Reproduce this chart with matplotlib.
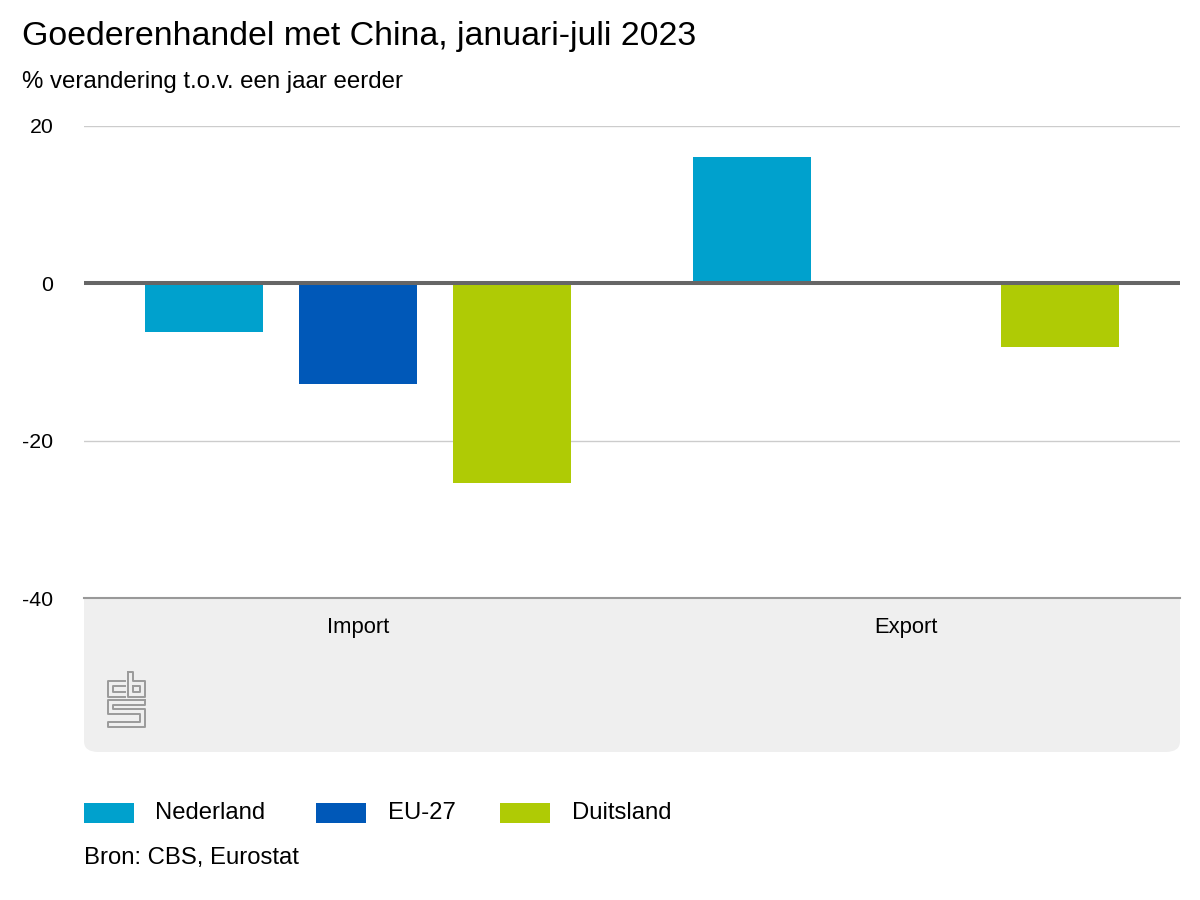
import matplotlib
matplotlib.use("Agg")
import matplotlib.pyplot as plt
import numpy as np
from matplotlib.patches import FancyBboxPatch
from matplotlib.lines import Line2D

plt.rcParams['font.family'] = ['Liberation Sans', 'DejaVu Sans']

categories = ["Import", "Export"]
series = ["Nederland", "EU-27", "Duitsland"]
nederland = [-6.2, 16.0]
eu27 = [-12.8, 0.0]
duitsland = [-25.4, -8.1]
colors = ["#00a1cd", "#0058b8", "#afcb05"]
yticks = [-40, -20, 0, 20]

W, H = 1200, 900
fig = plt.figure(figsize=(12, 9), dpi=100)

def fx(x):
    return x / W

def fy(y):
    return 1 - y / H

ax_left, ax_right, ax_top, ax_bot = 84, 1180, 126, 598
ax = fig.add_axes([fx(ax_left), fy(ax_bot), fx(ax_right - ax_left), (ax_bot - ax_top) / H])
ax.set_facecolor("white")

# grey panel below the plot
panel = FancyBboxPatch((fx(84), fy(752)), fx(1180 - 84), (752 - 560) / H,
                       boxstyle="round,pad=0,rounding_size=0.012",
                       transform=fig.transFigure, facecolor="#efefef",
                       edgecolor="none", zorder=-5)
fig.patches.append(panel)

x = np.arange(len(categories))
pitch = 0.281
width = 0.2153
for i, (vals, c) in enumerate(zip([nederland, eu27, duitsland], colors)):
    ax.bar(x + (i - 1) * pitch, vals, width=width, color=c, zorder=3, label=series[i])

ax.set_xlim(-0.5, 1.5)
ax.set_ylim(-40, 20)
ax.set_yticks(yticks)
ax.set_yticklabels([str(t) for t in yticks], fontsize=15.3)
ax.tick_params(axis='y', length=0, pad=22)
ax.set_xticks([])
for s in ax.spines.values():
    s.set_visible(False)
for t in [20, -20]:
    ax.axhline(t, color="#cccccc", lw=1, zorder=1)
ax.axhline(-40, color="#999999", lw=1.5, zorder=1, clip_on=False)
ax.axhline(0, color="#666666", lw=2.9, zorder=4)

for xi, cat in zip(x, categories):
    ax.text(xi, -(628 - 598) / (598 - 126), cat, transform=ax.get_xaxis_transform(),
            ha='center', va='center', fontsize=15.8, color="black")

# titles
fig.text(fx(22), fy(36), "Goederenhandel met China, januari-juli 2023", fontsize=24.4,
         ha='left', va='center', color="black")
fig.text(fx(22), fy(82), "% verandering t.o.v. een jaar eerder", fontsize=17.3,
         ha='left', va='center', color="black")

# legend (manual)
leg_items = [(84, 155), (316, 388), (500, 572)]
for (px, tx), name, c in zip(leg_items, series, colors):
    fig.patches.append(plt.Rectangle((fx(px), fy(823)), fx(50), 20 / H,
                                     transform=fig.transFigure, facecolor=c, edgecolor="none"))
    fig.text(fx(tx), fy(813), name, fontsize=17.2, ha='left', va='center')

fig.text(fx(84), fy(858), "Bron: CBS, Eurostat", fontsize=17.2, ha='left', va='center')

# CBS logo (approximate)
logo_paths = [
    [(125, 681), (108, 681), (108, 697), (125, 697)],
    [(125, 686), (113, 686), (113, 692), (125, 692)],
    [(128, 672), (128, 697), (145, 697), (145, 681), (133, 681), (133, 672), (128, 672)],
    [(133, 686), (140, 686), (140, 692), (133, 692), (133, 686)],
    [(145, 700), (108, 700), (108, 714), (140, 714), (140, 722), (108, 722), (108, 727),
     (145, 727), (145, 709), (113, 709), (113, 705), (145, 705), (145, 700)],
]
for p in logo_paths:
    xs = [fx(a) for a, b in p]
    ys = [fy(b) for a, b in p]
    fig.lines.append(Line2D(xs, ys, transform=fig.transFigure, color="#9a9a9a", lw=1.4))

fig.savefig("out.png", dpi=100)
